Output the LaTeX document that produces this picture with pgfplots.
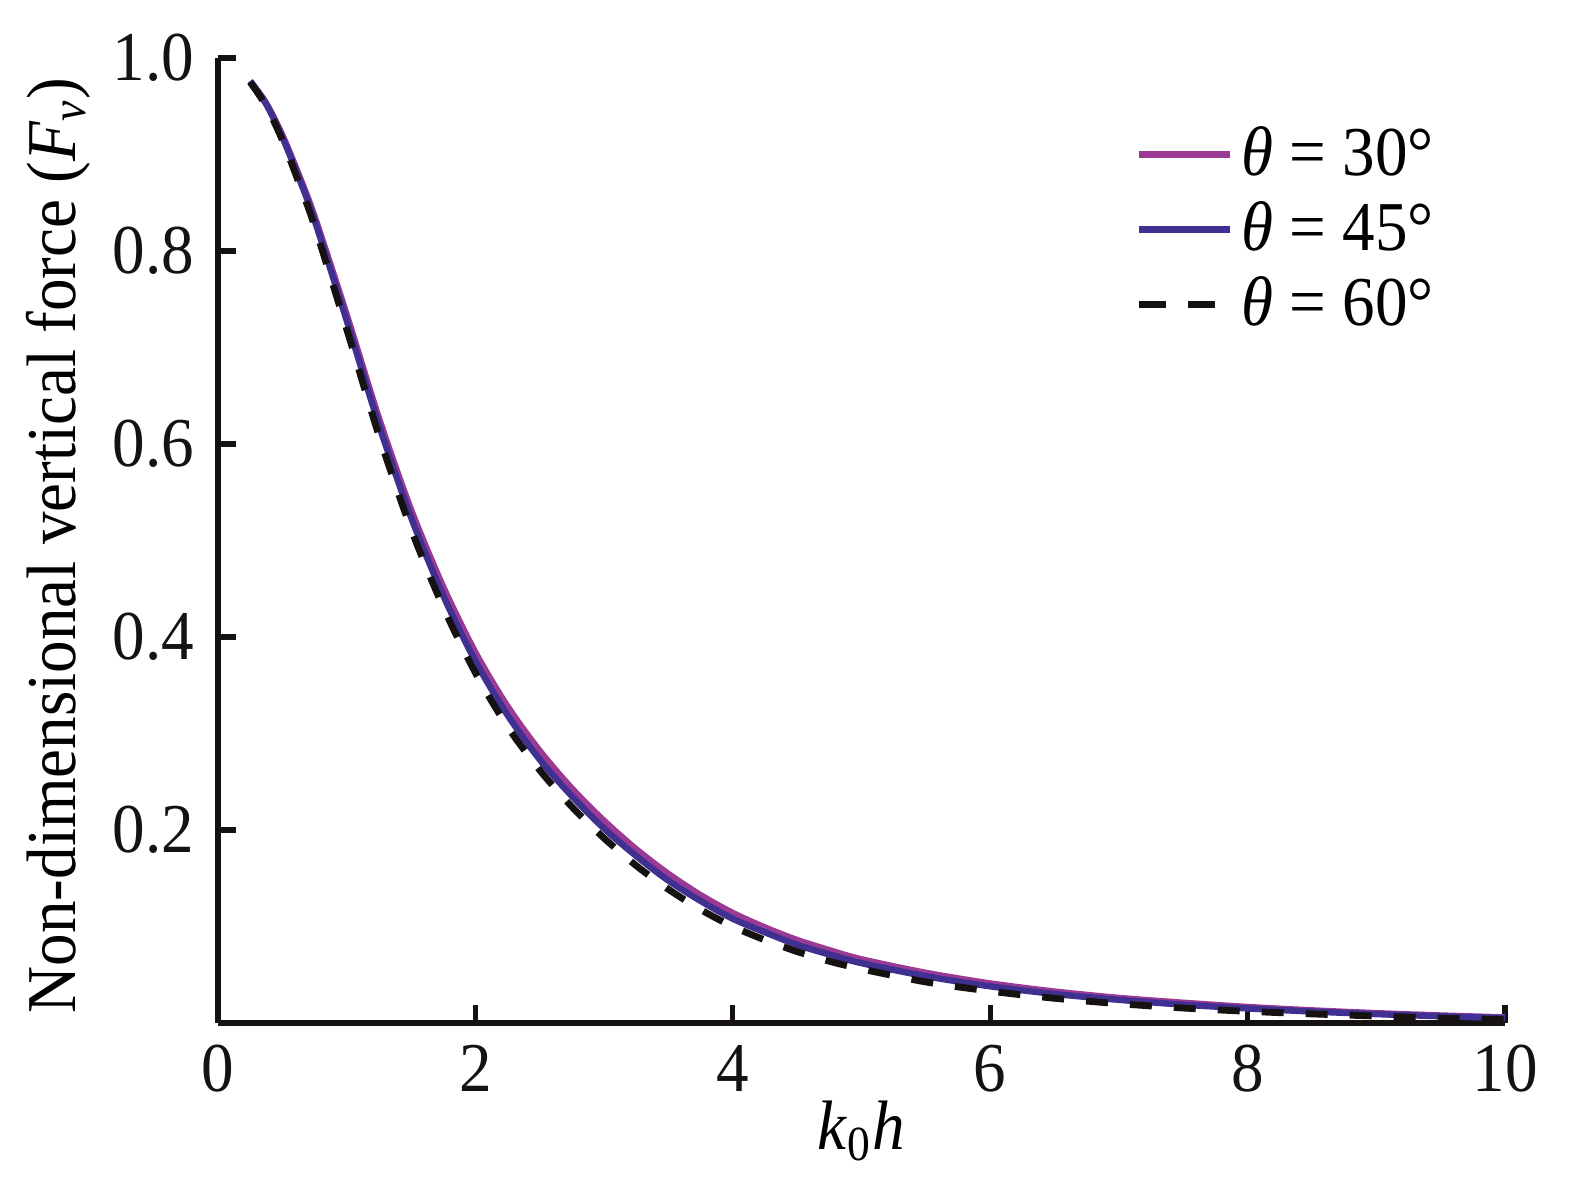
\documentclass[border=0pt]{standalone}
\usepackage{fontspec}
\setmainfont{Liberation Serif}[FakeStretch=0.93]
\usepackage{pgfplots}
\pgfplotsset{compat=1.18}
\definecolor{cA}{RGB}{155,58,148}
\definecolor{cB}{RGB}{64,48,145}
\definecolor{cC}{RGB}{22,18,18}
\newcommand{\bigf}{\fontsize{17.5}{21}\selectfont}

\pgfplotstableread{
x y
0.25 0.976
0.375 0.953
0.5 0.920
0.625 0.880
0.75 0.836
1.0 0.734
1.25 0.627
1.5 0.532
1.75 0.452
2.0 0.384
2.25 0.328
2.5 0.282
2.75 0.243
3.0 0.2095
3.25 0.180
3.5 0.1545
3.75 0.1325
4.0 0.114
4.25 0.099
4.5 0.086
4.75 0.0755
5.0 0.066
5.5 0.052
6.0 0.041
6.5 0.0326
7.0 0.026
7.5 0.021
8.0 0.0166
8.5 0.0131
9.0 0.0102
9.5 0.0078
10.0 0.0058
}\tA

\pgfplotstableread{
x y
0.25 0.976
0.375 0.952
0.5 0.918
0.625 0.877
0.75 0.832
1.0 0.728
1.25 0.620
1.5 0.524
1.75 0.443
2.0 0.375
2.25 0.319
2.5 0.273
2.75 0.235
3.0 0.2015
3.25 0.173
3.5 0.1475
3.75 0.1265
4.0 0.108
4.25 0.094
4.5 0.081
4.75 0.071
5.0 0.062
5.5 0.0485
6.0 0.038
6.5 0.0301
7.0 0.024
7.5 0.019
8.0 0.0151
8.5 0.0119
9.0 0.0092
9.5 0.0070
10.0 0.0051
}\tB

\pgfplotstableread{
x y
0.25 0.975
0.375 0.950
0.5 0.915
0.625 0.872
0.75 0.826
1.0 0.719
1.25 0.609
1.5 0.512
1.75 0.431
2.0 0.363
2.25 0.307
2.5 0.262
2.75 0.224
3.0 0.1915
3.25 0.163
3.5 0.1385
3.75 0.1175
4.0 0.100
4.25 0.086
4.5 0.074
4.75 0.064
5.0 0.056
5.5 0.0425
6.0 0.033
6.5 0.0256
7.0 0.020
7.5 0.0155
8.0 0.0121
8.5 0.0094
9.0 0.0072
9.5 0.0050
10.0 0.0036
}\tC

\begin{document}
\begin{tikzpicture}
\begin{axis}[
  scale only axis,
  width=321.75pt, height=241.25pt,
  xmin=0, xmax=10, ymin=0, ymax=1,
  axis x line=bottom, axis y line=left,
  axis line style={-, line width=1.4pt, color=cC},
  tick align=inside,
  major tick length=4.5pt,
  tick style={line width=1.3pt, color=cC},
  xtick={0,2,4,6,8,10},
  ytick={0.2,0.4,0.6,0.8,1.0},
  /pgf/number format/assume math mode=true,
  tick label style={font=\bigf, color=cC},
  xticklabel style={yshift=-2pt},
  yticklabel style={xshift=-2.5pt, /pgf/number format/.cd, fixed, fixed zerofill, precision=1},
  every axis x label/.style={at={(axis description cs:0.5,-0.112)}, anchor=center, font=\bigf},
  every axis y label/.style={at={(axis description cs:-0.124,0.495)}, rotate=90, anchor=center, font=\bigf},
  xlabel={\textit{k}\textsubscript{0}\textit{h}},
  ylabel={Non-dimensional vertical force (\textit{F}\textsubscript{\textit{v}})},
  legend style={at={(axis description cs:0.703,0.946)}, anchor=north west, draw=none, fill=none, font=\bigf, row sep=1pt},
  legend cell align=left,
  legend image code/.code={\draw[#1] (0pt,0pt) -- (22.75pt,0pt);},
]
\addplot[cA, line width=1.6pt, smooth] table {\tA};
\addlegendentry{\textit{θ} = 30°}
\addplot[cB, line width=1.6pt, smooth] table {\tB};
\addlegendentry{\textit{θ} = 45°}
\addplot[cC, line width=1.7pt, dash pattern=on 5.5pt off 5.5pt, smooth, forget plot] table {\tC};
\addlegendimage{cC, line width=1.7pt, dash pattern=on 6.75pt off 5.5pt}
\addlegendentry{\textit{θ} = 60°}
\end{axis}
\path (-54.5pt,-41pt) rectangle (339.25pt,255.75pt);
\end{tikzpicture}
\end{document}
